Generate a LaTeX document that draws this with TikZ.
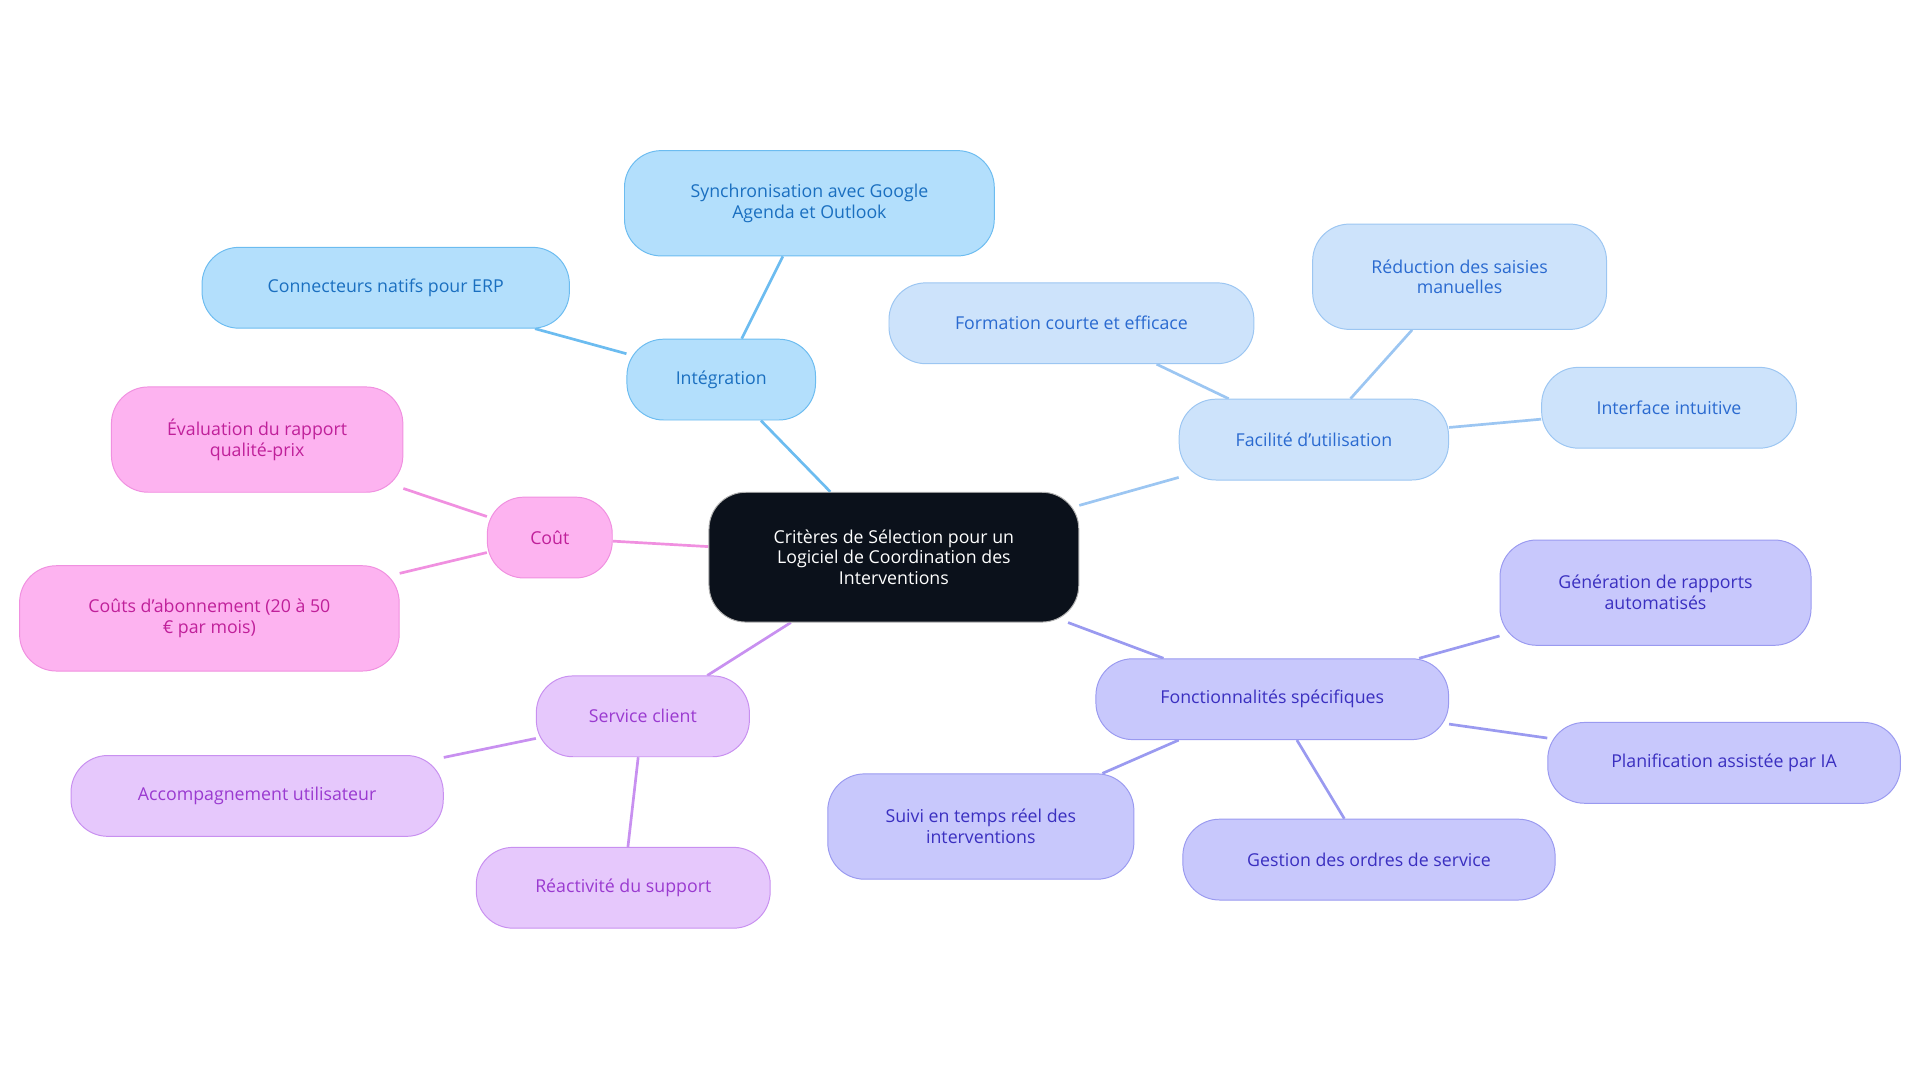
\documentclass[tikz,border=0pt]{standalone}
\usepackage{fontspec}
\setmainfont{Open Sans}
\usetikzlibrary{backgrounds}
\definecolor{cA}{HTML}{B3DFFC}\definecolor{dA}{HTML}{6CBCF0}\definecolor{tA}{HTML}{1A6FC0}
\definecolor{cB}{HTML}{CDE3FB}\definecolor{dB}{HTML}{9CC6F2}\definecolor{tB}{HTML}{2A6AD0}
\definecolor{cC}{HTML}{C8C8FC}\definecolor{dC}{HTML}{9A9AF0}\definecolor{tC}{HTML}{3A2FC0}
\definecolor{cD}{HTML}{E6C8FC}\definecolor{dD}{HTML}{C890F0}\definecolor{tD}{HTML}{9A3AD0}
\definecolor{cE}{HTML}{FDB3F0}\definecolor{dE}{HTML}{F090E0}\definecolor{tE}{HTML}{C0209A}
\begin{document}
\begin{tikzpicture}[x=1pt,y=-1pt,
 n/.style={rounded corners=30pt,align=center,font=\fontsize{14.5}{17}\selectfont,inner sep=0pt,line width=0.8pt},
 A/.style={n,fill=cA,draw=dA,text=tA},
 B/.style={n,fill=cB,draw=dB,text=tB},
 C/.style={n,fill=cC,draw=dC,text=tC},
 D/.style={n,fill=cD,draw=dD,text=tD},
 E/.style={n,fill=cE,draw=dE,text=tE},
 sz/.style 2 args={minimum width=#1pt,minimum height=#2pt},
 e/.style={line width=2.2pt}]
\useasboundingbox (0,0) rectangle (1568,884);
\node[n,fill={rgb,255:red,11;green,17;blue,27},draw=gray!60,text=white,sz={302}{106}] (c) at (730,455) {Critères de Sélection pour un\\Logiciel de Coordination des\\Interventions};
\node[A,sz={154}{66}] (i) at (589,310) {Intégration};
\node[A,sz={302}{86}] (i1) at (661,166) {Synchronisation avec Google\\Agenda et Outlook};
\node[A,sz={300}{66}] (i2) at (315,235) {Connecteurs natifs pour ERP};
\node[B,sz={220}{66}] (f) at (1073,359) {Facilité d'utilisation};
\node[B,sz={298}{66}] (f1) at (875,264) {Formation courte et efficace};
\node[B,sz={240}{86}] (f2) at (1192,226) {Réduction des saisies\\manuelles};
\node[B,sz={208}{66}] (f3) at (1363,333) {Interface intuitive};
\node[C,sz={288}{66}] (s) at (1039,571) {Fonctionnalités spécifiques};
\node[C,sz={254}{86}] (s1) at (1352,484) {Génération de rapports\\automatisés};
\node[C,sz={288}{66}] (s2) at (1408,623) {Planification assistée par IA};
\node[C,sz={304}{66}] (s3) at (1118,702) {Gestion des ordres de service};
\node[C,sz={250}{86}] (s4) at (801,675) {Suivi en temps réel des\\interventions};
\node[D,sz={174}{66}] (v) at (525,585) {Service client};
\node[D,sz={304}{66}] (v1) at (210,650) {Accompagnement utilisateur};
\node[D,sz={240}{66}] (v2) at (509,725) {Réactivité du support};
\node[E,sz={102}{66}] (k) at (449,439) {Coût};
\node[E,sz={238}{86}] (k1) at (210,359) {Évaluation du rapport\\qualité-prix};
\node[E,sz={310}{86}] (k2) at (171,505) {Coûts d'abonnement (20 à 50\\€ par mois)};
\begin{scope}[on background layer]
\draw[e,dA] (c)--(i) (i)--(i1) (i)--(i2);
\draw[e,dB] (c)--(f) (f)--(f1) (f)--(f2) (f)--(f3);
\draw[e,dC] (c)--(s) (s)--(s1) (s)--(s2) (s)--(s3) (s)--(s4);
\draw[e,dD] (c)--(v) (v)--(v1) (v)--(v2);
\draw[e,dE] (c)--(k) (k)--(k1) (k)--(k2);
\end{scope}
\end{tikzpicture}
\end{document}
